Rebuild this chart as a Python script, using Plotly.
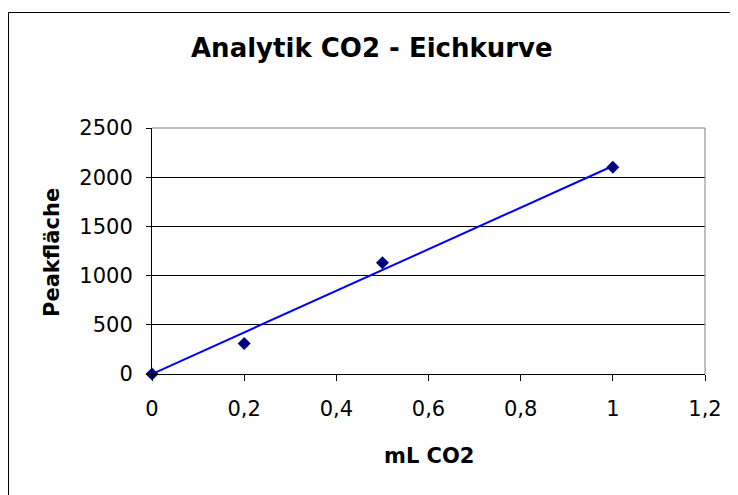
import numpy as np
import plotly.graph_objects as go

# Data
ml_co2 = [0, 0.2, 0.5, 1.0]
peakflaeche = [0, 310, 1130, 2100]

title_text = "Analytik CO2 - Eichkurve"
x_title = "mL CO2"
y_title = "Peakfläche"

# Linear trendline through origin (Excel style, intercept = 0)
xa = np.array(ml_co2, dtype=float)
ya = np.array(peakflaeche, dtype=float)
slope = float((xa * ya).sum() / (xa * xa).sum())
trend_x = [min(ml_co2), max(ml_co2)]
trend_y = [slope * v for v in trend_x]

OFF = 8  # page body margin
W, H = 738 - OFF, 495 - OFF
L, R, T, B = 152, 705, 128, 374  # screen pixels of plot area


def px(xp):
    return (xp - L) / (R - L)


def py(yp):
    return (B - yp) / (B - T)


FONT = "DejaVu Sans"

fig = go.Figure()
fig.add_trace(go.Scatter(
    x=trend_x, y=trend_y, mode="lines",
    line=dict(color="#0000FF", width=2),
    cliponaxis=False, showlegend=False, hoverinfo="skip"))
fig.add_trace(go.Scatter(
    x=ml_co2, y=peakflaeche, mode="markers",
    marker=dict(symbol="diamond", size=10, color="#000080",
                line=dict(width=0)),
    cliponaxis=False, showlegend=False))

fig.update_layout(
    width=W, height=H,
    margin=dict(l=L - OFF, r=W - (R - OFF), t=T - OFF, b=H - (B - OFF), pad=0),
    paper_bgcolor="white", plot_bgcolor="white",
    separators=",.",
    font=dict(family=FONT, size=21, color="black"),
    showlegend=False,
)

fig.update_xaxes(
    range=[0, 1.2], dtick=0.2, tick0=0,
    showline=True, linecolor="black", linewidth=1,
    ticks="outside", ticklen=6, tickcolor="black", tickwidth=1,
    showgrid=False, zeroline=False,
    ticklabelstandoff=10,
    tickfont=dict(family=FONT, size=21, color="black"),
)
fig.update_yaxes(
    range=[0, 2500], dtick=500, tick0=0,
    showline=True, linecolor="black", linewidth=1,
    ticks="outside", ticklen=5, tickcolor="black", tickwidth=1,
    showgrid=True, gridcolor="black", gridwidth=1,
    zeroline=False,
    ticklabelstandoff=9,
    tickfont=dict(family=FONT, size=21, color="black"),
)

# plot area border (gray top & right)
fig.add_shape(type="line", xref="paper", yref="paper", x0=0, x1=1, y0=1, y1=1,
              line=dict(color="#808080", width=1), layer="above")
fig.add_shape(type="line", xref="paper", yref="paper", x0=1, x1=1, y0=0, y1=1,
              line=dict(color="#808080", width=1), layer="above")
# chart area border (black, running past right and bottom)
fig.add_shape(type="rect", xref="paper", yref="paper",
              x0=px(OFF + 0.5), x1=px(760), y0=py(520), y1=py(12.5),
              line=dict(color="black", width=1), layer="below")

fig.add_annotation(text="<b>" + title_text + "</b>", xref="paper", yref="paper",
                   x=px(372), y=py(48), xanchor="center", yanchor="middle",
                   showarrow=False, font=dict(family=FONT, size=26, color="black"))
fig.add_annotation(text="<b>" + x_title + "</b>", xref="paper", yref="paper",
                   x=px(429), y=py(456), xanchor="center", yanchor="middle",
                   showarrow=False, font=dict(family=FONT, size=21, color="black"))
fig.add_annotation(text="<b>" + y_title + "</b>", xref="paper", yref="paper",
                   x=px(52), y=py(253), xanchor="center", yanchor="middle",
                   textangle=-90,
                   showarrow=False, font=dict(family=FONT, size=21, color="black"))

fig.write_html("out.html")
